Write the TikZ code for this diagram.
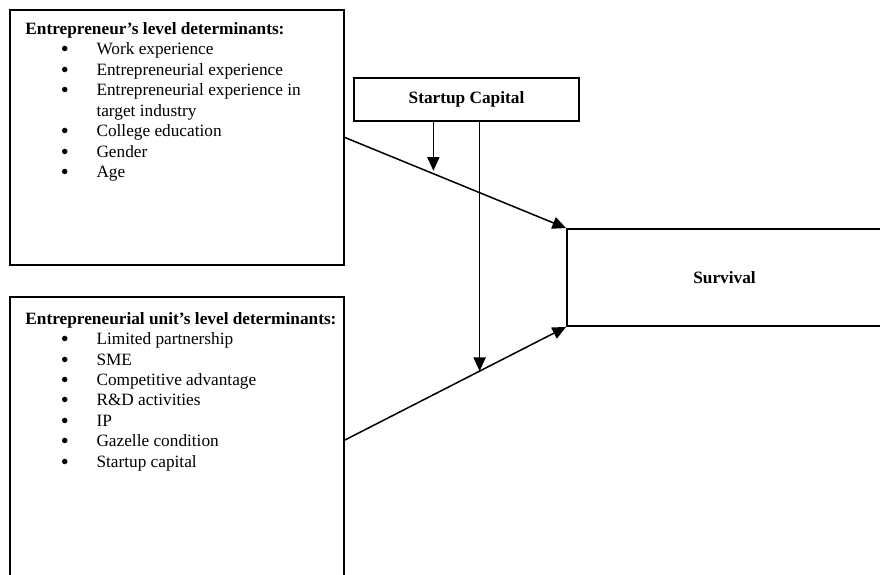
\documentclass[tikz,border=0pt]{standalone}
\usepackage{fontspec}
\setmainfont{Liberation Serif}
\usetikzlibrary{positioning,arrows.meta,calc}
\newcommand{\px}{0.66pt}
\newcommand{\bul}[1]{\hspace*{23.3pt}\makebox[23.6pt][l]{\raisebox{-1.3pt}{\fontsize{15}{13.5}\selectfont\textbullet}}#1}
\newcommand{\cont}[1]{\hspace*{46.9pt}#1}
\begin{document}
\begin{tikzpicture}[x=\px, y=-\px,
    box/.style={draw, line width=1.2pt, inner sep=0pt},
    list/.style={align=left, inner sep=0pt, font=\fontsize{11.4}{13.5}\selectfont},
    title/.style={font=\fontsize{11.4}{13.5}\selectfont\bfseries},
    link/.style={line width=1pt, -{Triangle[length=9pt,width=8pt]}}]
    \useasboundingbox (0,0) rectangle (880,575);
    \clip (0,0) rectangle (880,575);
    % boxes
    \node[box, minimum width=334*\px, minimum height=255*\px] (entre) at (177,137.5) {};
    \node[box, minimum width=334*\px, minimum height=286*\px] (unit) at (177,440) {};
    \node[box, title, minimum width=225*\px, minimum height=43*\px] (capital) at (466.5,99.5) {Startup Capital};
    \node[box, title, minimum width=315*\px, minimum height=97*\px] (survival) at (724.5,277.5) {Survival};
    % lists
    \node[list, below right=8.6pt and 10.6pt of entre.north west] (entrelist) {%
        \textbf{Entrepreneur’s level determinants:}\\
        \bul{Work experience}\\
        \bul{Entrepreneurial experience}\\
        \bul{Entrepreneurial experience in}\\
        \cont{target industry}\\
        \bul{College education}\\
        \bul{Gender}\\
        \bul{Age}};
    \node[list, below right=10.4pt and 10.6pt of unit.north west] (unitlist) {%
        \textbf{Entrepreneurial unit’s level determinants:}\\
        \bul{Limited partnership}\\
        \bul{SME}\\
        \bul{Competitive advantage}\\
        \bul{R\&D activities}\\
        \bul{IP}\\
        \bul{Gazelle condition}\\
        \bul{Startup capital}};
    % connectors
    \draw[link] (entre.east) -- (survival.north west);
    \draw[link] (unit.east) -- (survival.south west);
    \coordinate (m1) at ($(entre.east)!0.40!(survival.north west)$);
    \coordinate (m2) at ($(unit.east)!0.609!(survival.south west)$);
    \draw[link, shorten >=2pt] (capital.south -| m1) -- (m1);
    \draw[link] (capital.south -| m2) -- (m2);
\end{tikzpicture}
\end{document}
